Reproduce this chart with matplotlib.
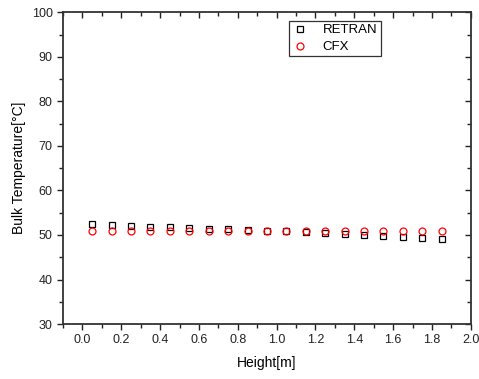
import matplotlib
matplotlib.use("Agg")
import matplotlib.pyplot as plt
from matplotlib.ticker import MultipleLocator

plt.rcParams['font.family'] = ['Liberation Sans', 'DejaVu Sans']

height = [0.05, 0.15, 0.25, 0.35, 0.45, 0.55, 0.65, 0.75, 0.85, 0.95,
          1.05, 1.15, 1.25, 1.35, 1.45, 1.55, 1.65, 1.75, 1.85]
retran = [52.4, 52.3, 52.1, 51.9, 51.8, 51.6, 51.4, 51.3, 51.1, 50.95,
          50.8, 50.65, 50.45, 50.3, 50.05, 49.85, 49.6, 49.3, 49.0]
cfx = [50.95, 50.9, 50.9, 50.9, 50.9, 50.9, 50.9, 50.9, 50.9, 50.9,
       50.85, 50.85, 50.85, 50.85, 50.9, 50.9, 50.9, 50.9, 50.9]

fig = plt.figure(figsize=(4.79, 3.79), dpi=100)
ax = fig.add_axes([0.1315, 0.145, 0.8515, 0.8225])

ax.plot(height, retran, linestyle='none', marker='s', markersize=4.3,
        markerfacecolor='none', markeredgecolor='black', markeredgewidth=0.9,
        label='RETRAN')
ax.plot(height, cfx, linestyle='none', marker='o', markersize=5,
        markerfacecolor='none', markeredgecolor='red', markeredgewidth=0.9,
        label='CFX')

ax.set_xlim(-0.1, 2.0)
ax.set_ylim(30, 100)
ax.xaxis.set_major_locator(MultipleLocator(0.2))
ax.xaxis.set_minor_locator(MultipleLocator(0.1))
ax.yaxis.set_major_locator(MultipleLocator(10))
ax.yaxis.set_minor_locator(MultipleLocator(5))
ax.xaxis.set_major_formatter(matplotlib.ticker.FormatStrFormatter('%.1f'))

ax.tick_params(axis='both', which='major', direction='out', length=4, width=1,
               labelsize=9, colors='#222222', labelcolor='#222222')
ax.tick_params(axis='both', which='minor', direction='out', length=3, width=1, colors='#222222')
ax.tick_params(axis='both', which='both', top=True, right=True)
for t in ax.xaxis.get_major_ticks() + ax.xaxis.get_minor_ticks():
    t.tick2line.set_marker(3)  # TICKDOWN (inward on top)
for t in ax.yaxis.get_major_ticks() + ax.yaxis.get_minor_ticks():
    t.tick2line.set_marker(0)  # TICKLEFT (inward on right)

for s in ax.spines.values():
    s.set_linewidth(1.3)
    s.set_color('#333333')

ax.set_xlabel('Height[m]', fontsize=10, labelpad=7)
ax.set_ylabel('Bulk Temperature[°C]', fontsize=10, labelpad=4)

leg = ax.legend(loc='upper left', bbox_to_anchor=(0.554, 0.973), fontsize=9.5,
                frameon=True, fancybox=False, edgecolor='black',
                handlelength=1.2, handletextpad=1.1, borderpad=0.25,
                labelspacing=0.35, borderaxespad=0)
leg.get_frame().set_linewidth(0.9)

fig.savefig('out.png', dpi=100)
